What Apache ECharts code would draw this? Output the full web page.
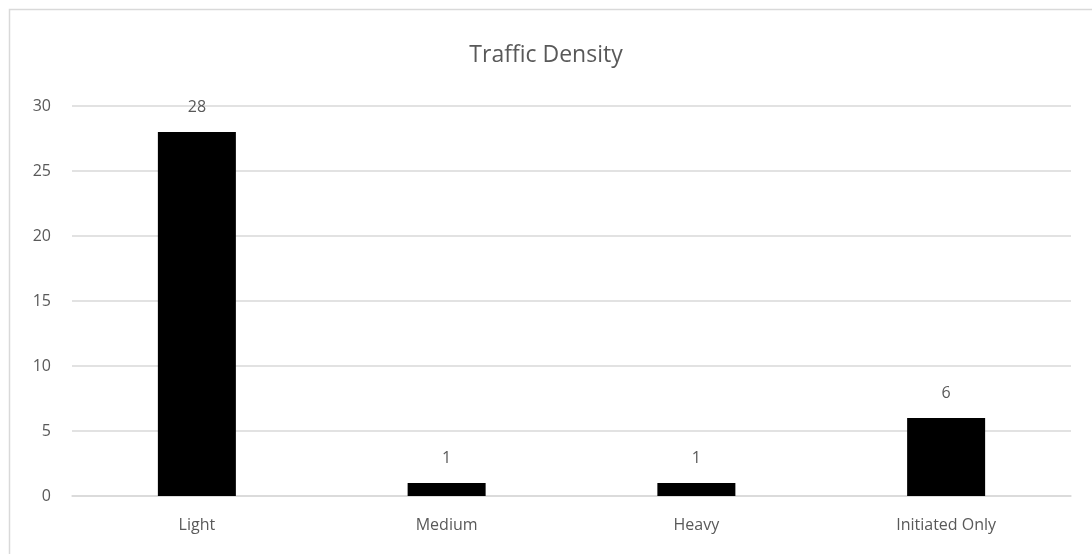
<!DOCTYPE html>
<html>
<head>
<meta charset="utf-8">
<script src="https://cdn.jsdelivr.net/npm/echarts@6/dist/echarts.min.js"></script>
<style>
  html, body { margin: 0; padding: 0; background: #fff; }
  #chart { width: 1092px; height: 554px; }
</style>
</head>
<body>
<div id="chart"></div>
<script>
// Traffic density counts per category
const categories = ['Light', 'Medium', 'Heavy', 'Initiated Only'];
const counts = [28, 1, 1, 6];
const yTicks = { min: 0, max: 30, interval: 5 };

const textColor = '#595959';
const fontFamily = '"Open Sans", "Noto Sans", sans-serif';

const chart = echarts.init(document.getElementById('chart'), null, { renderer: 'canvas' });
chart.setOption({
  backgroundColor: '#ffffff',
  animation: false,
  graphic: [{
    type: 'rect',
    left: 7, top: 7,
    shape: { width: 1200, height: 700 },
    style: { fill: 'none', stroke: '#d9d9d9', lineWidth: 1.5 },
    silent: true
  }],
  title: {
    text: 'Traffic Density',
    left: 'center',
    top: 39,
    textStyle: { color: textColor, fontFamily, fontSize: 23, fontWeight: 'normal' }
  },
  grid: { left: 72, right: 21, top: 106, bottom: 58, containLabel: false },
  xAxis: {
    type: 'category',
    data: categories,
    axisLine: { show: true, lineStyle: { color: '#d9d9d9', width: 1.5 } },
    axisTick: { show: false },
    axisLabel: { color: textColor, fontFamily, fontSize: 16, margin: 21 }
  },
  yAxis: {
    type: 'value',
    min: yTicks.min, max: yTicks.max, interval: yTicks.interval,
    axisLine: { show: false },
    axisTick: { show: false },
    axisLabel: { color: textColor, fontFamily, fontSize: 16, margin: 21 },
    splitLine: { lineStyle: { color: '#d9d9d9', width: 1.5 } }
  },
  series: [{
    type: 'bar',
    data: counts,
    barWidth: 78,
    itemStyle: { color: '#000000' },
    label: {
      show: true,
      position: 'top',
      distance: 17,
      color: textColor,
      fontFamily,
      fontSize: 16
    }
  }]
});
</script>
</body>
</html>
